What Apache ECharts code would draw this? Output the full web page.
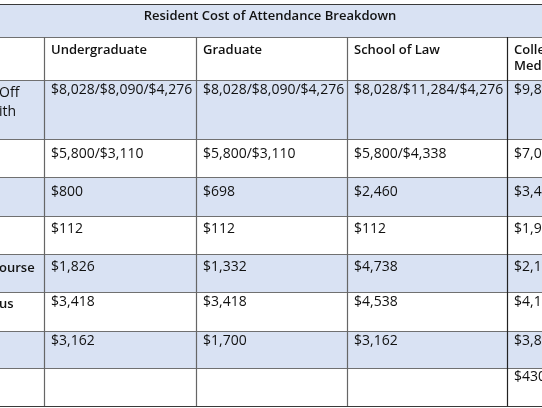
<!DOCTYPE html>
<html>
<head>
<meta charset="utf-8">
<script src="https://cdn.jsdelivr.net/npm/echarts@6/dist/echarts.min.js"></script>
<style>
  html, body { margin: 0; padding: 0; background: #ffffff; }
  #chart { width: 542px; height: 408px; }
</style>
</head>
<body>
<div id="chart"></div>
<script>
// ---------- DATA ----------
var title = 'Resident Cost of Attendance Breakdown';
var columnHeaders = ['', 'Undergraduate', 'Graduate', 'School of Law', 'Colle\nMed'];
var rowLabels = ['Off\nith', '', '', '', 'ourse', 'us', '', ''];
var boldRowLabels = [false, true, true, true, true, true, true, true];
var undergraduate = ['$8,028/$8,090/$4,276', '$5,800/$3,110', '$800', '$112', '$1,826', '$3,418', '$3,162', ''];
var graduate = ['$8,028/$8,090/$4,276', '$5,800/$3,110', '$698', '$112', '$1,332', '$3,418', '$1,700', ''];
var schoolOfLaw = ['$8,028/$11,284/$4,276', '$5,800/$4,338', '$2,460', '$112', '$4,738', '$4,538', '$3,162', ''];
var medicine = ['$9,8', '$7,0', '$3,4', '$1,9', '$2,1', '$4,1', '$3,8', '$430'];

// ---------- LAYOUT (table geometry in axis units) ----------
var colEdges = [-140, 44, 196, 347, 507, 680];
var rowEdges = [4, 37, 80, 139, 177, 216, 254, 292, 331, 368, 406];
var rowPad = [4, 5.5, 2, 7, 7, 5.5, 5, 2.5, 2.5, 1.5];
var BLUE = '#d9e2f3';
var FONT = '"Open Sans"';

// Build cells
var cells = [];
cells.push({ value: [0, 5, 0], text: title, bold: true, center: true });
for (var c = 0; c < columnHeaders.length; c++) {
  cells.push({ value: [c, c + 1, 1], text: columnHeaders[c], bold: true });
}
var valueCols = [undergraduate, graduate, schoolOfLaw, medicine];
for (var r = 0; r < rowLabels.length; r++) {
  cells.push({ value: [0, 1, r + 2], text: rowLabels[r], bold: boldRowLabels[r], label: true });
  for (var k = 0; k < valueCols.length; k++) {
    cells.push({ value: [k + 1, k + 2, r + 2], text: valueCols[k][r], bold: false });
  }
}

function rowFill(ri) {
  if (ri === 0) return BLUE;
  if (ri === 1) return '#ffffff';
  return ((ri - 2) % 2 === 0) ? BLUE : '#ffffff';
}

var chart = echarts.init(document.getElementById('chart'), null, { renderer: 'canvas' });
chart.setOption({
  animation: false,
  backgroundColor: '#ffffff',
  grid: { left: 0, right: 0, top: 0, bottom: 0 },
  xAxis: { type: 'value', min: 0, max: 542, show: false },
  yAxis: { type: 'value', min: 0, max: 408, inverse: true, show: false },
  series: [{
    type: 'custom',
    clip: false,
    data: cells,
    encode: { x: [0, 1], y: 2 },
    renderItem: function (params, api) {
      var cell = cells[params.dataIndex];
      var c0 = api.value(0), c1 = api.value(1), ri = api.value(2);
      var p0 = api.coord([colEdges[c0], rowEdges[ri]]);
      var p1 = api.coord([colEdges[c1], rowEdges[ri + 1]]);
      var w = p1[0] - p0[0], h = p1[1] - p0[1];
      var children = [{
        type: 'rect',
        shape: { x: p0[0], y: p0[1], width: w, height: h },
        style: { fill: rowFill(ri), stroke: null }
      }];
      var tx;
      if (cell.center) tx = api.coord([(colEdges[0] + colEdges[5]) / 2, 0])[0];
      else if (cell.label) tx = api.coord([-1, 0])[0];
      else tx = p0[0] + 7;
      var extra = (cell.label && ri === 2) ? 2 : 0;
      children.push({
        type: 'text',
        x: tx,
        y: p0[1] + rowPad[ri] + extra,
        style: {
          text: cell.text,
          fill: '#111111',
          font: (cell.bold ? '600 13px ' : '14px ') + FONT,
          lineHeight: cell.label ? 19 : 16,
          align: cell.center ? 'center' : 'left',
          verticalAlign: 'top'
        }
      });
      return { type: 'group', children: children };
    },
    z: 1
  }, {
    type: 'custom',
    clip: false,
    data: [0],
    renderItem: function (params, api) {
      var ch = [];
      var xl = api.coord([colEdges[0], 0])[0], xr = api.coord([colEdges[5], 0])[0];
      for (var i = 0; i < rowEdges.length; i++) {
        var y = Math.round(api.coord([0, rowEdges[i]])[1]) + 0.5;
        ch.push({ type: 'line', shape: { x1: xl, y1: y, x2: xr, y2: y },
          style: { stroke: (i === 0 || i === rowEdges.length - 1) ? '#3a3a3a' : '#707070', lineWidth: 1.2 } });
      }
      var yt = api.coord([0, rowEdges[1]])[1], yb = api.coord([0, rowEdges[rowEdges.length - 1]])[1];
      for (var j = 1; j < colEdges.length - 1; j++) {
        var x = Math.round(api.coord([colEdges[j], 0])[0]) + 0.5;
        ch.push({ type: 'line', shape: { x1: x, y1: yt, x2: x, y2: yb },
          style: { stroke: j === 4 ? '#222222' : '#666666', lineWidth: 1.2 } });
      }
      return { type: 'group', children: ch };
    },
    z: 5
  }]
});
</script>
</body>
</html>
